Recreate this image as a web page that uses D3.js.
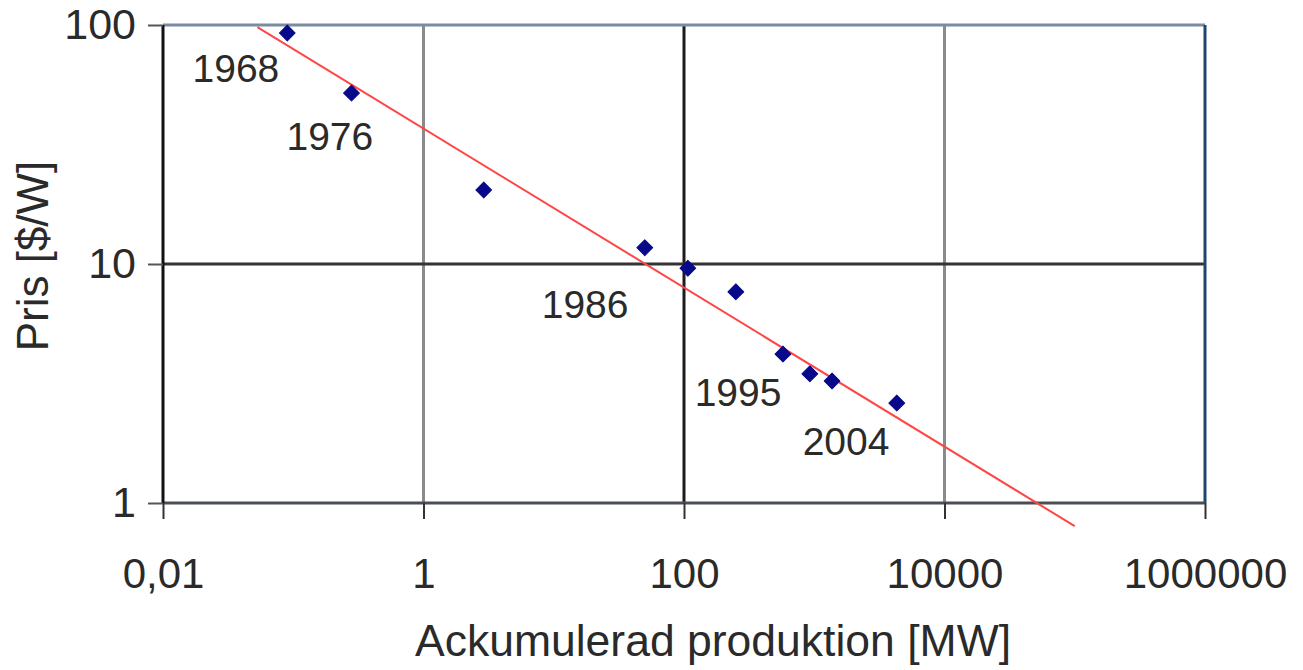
<!DOCTYPE html>
<html>
<head>
<meta charset="utf-8">
<script src="https://cdn.jsdelivr.net/npm/d3@7"></script>
<style>
  html, body { margin: 0; padding: 0; background: #fff; }
  svg { display: block; }
  text { font-family: "Liberation Sans", Arial, sans-serif; fill: #2a2a2a; }
</style>
</head>
<body>
<svg id="chart" width="1303" height="670"></svg>
<script>
// ---- data ----
const produktion = [0.09, 0.28, 2.9, 50, 107, 250, 575, 925, 1370, 4300];   // MW
const pris       = [92.6, 51.9, 20.4, 11.7, 9.6, 7.65, 4.2, 3.47, 3.24, 2.62]; // $/W
const labelYears = ["1968", "1976", "1986", "1995", "2004"];
const labelX     = [0.0363, 0.191, 17.4, 260, 1754];
const labelY     = [57.8, 30.0, 5.94, 2.55, 1.59];
const trendX     = [0.053, 100000];
const trendY     = [98, 0.80];
const xTicks     = [0.01, 1, 100, 10000, 1000000];
const xTickLabels= ["0,01", "1", "100", "10000", "1000000"];
const yTicks     = [1, 10, 100];
const yTickLabels= ["1", "10", "100"];

// ---- layout ----
const svg = d3.select("#chart");
const L = 163, R = 1205, T = 25, B = 503;
const x = d3.scaleLog().domain([0.01, 1000000]).range([L, R]);
const y = d3.scaleLog().domain([1, 100]).range([B, T]);

svg.append("rect").attr("width", 1303).attr("height", 670).attr("fill", "#fff");

// gridlines
const gridColX = {1: "#8a8a8a", 100: "#1c1c1c", 10000: "#8a8a8a"};
svg.append("g").selectAll("line").data([1, 100, 10000]).join("line")
  .attr("x1", d => x(d)).attr("x2", d => x(d))
  .attr("y1", T).attr("y2", B)
  .attr("stroke", d => gridColX[d]).attr("stroke-width", 3);
svg.append("g").selectAll("line").data([10]).join("line")
  .attr("x1", L).attr("x2", R)
  .attr("y1", d => y(d)).attr("y2", d => y(d))
  .attr("stroke", "#333").attr("stroke-width", 3);

// frame
svg.append("line").attr("x1", L).attr("x2", R).attr("y1", T).attr("y2", T)
  .attr("stroke", "#7b8ca0").attr("stroke-width", 3);
svg.append("line").attr("x1", R).attr("x2", R).attr("y1", T).attr("y2", B)
  .attr("stroke", "#1e4470").attr("stroke-width", 3);

// axes
const xAxis = d3.axisBottom(x).tickValues(xTicks)
  .tickFormat((d, i) => xTickLabels[i]).tickSize(16).tickPadding(39);
const gx = svg.append("g").attr("transform", `translate(0,${B})`).call(xAxis);
gx.select(".domain").attr("stroke", "#4a4f55").attr("stroke-width", 3)
  .attr("d", `M${L},0H${R}`);
gx.selectAll(".tick line").attr("stroke", "#333").attr("stroke-width", 2);
gx.selectAll(".tick text").attr("font-size", 42).attr("fill", "#2a2a2a")
  .attr("font-family", "Liberation Sans, Arial, sans-serif");

const yAxis = d3.axisLeft(y).tickValues(yTicks)
  .tickFormat((d, i) => yTickLabels[i]).tickSize(15).tickPadding(12);
const gy = svg.append("g").attr("transform", `translate(${L},0)`).call(yAxis);
gy.select(".domain").attr("stroke", "#111").attr("stroke-width", 3)
  .attr("d", `M0,${T}V${B}`);
gy.selectAll(".tick line").attr("stroke", "#555").attr("stroke-width", 2);
gy.selectAll(".tick text").attr("font-size", 43).attr("fill", "#2a2a2a")
  .attr("font-family", "Liberation Sans, Arial, sans-serif");

// trend line
const lineGen = d3.line().x(d => x(d[0])).y(d => y(d[1]));
svg.append("path").datum(d3.zip(trendX, trendY))
  .attr("d", lineGen).attr("fill", "none")
  .attr("stroke", "#ff4646").attr("stroke-width", 2);

// points
const sym = d3.symbol().type(d3.symbolSquare).size(125);
svg.append("g").selectAll("path").data(d3.zip(produktion, pris)).join("path")
  .attr("d", sym)
  .attr("transform", d => `translate(${x(d[0])},${y(d[1])}) rotate(45)`)
  .attr("fill", "#08088a")
  .attr("stroke", "#08088a").attr("stroke-width", 1).attr("stroke-linejoin", "round");

// year labels
svg.append("g").selectAll("text").data(labelYears).join("text")
  .attr("x", (d, i) => x(labelX[i])).attr("y", (d, i) => y(labelY[i]))
  .attr("text-anchor", "middle").attr("font-size", 39)
  .text(d => d);

// axis titles
svg.append("text").attr("x", 713).attr("y", 656)
  .attr("text-anchor", "middle").attr("font-size", 44.5)
  .text("Ackumulerad produktion [MW]");
svg.append("text").attr("transform", "translate(48,256) rotate(-90)")
  .attr("text-anchor", "middle").attr("font-size", 44)
  .text("Pris [$/W]");
</script>
</body>
</html>
